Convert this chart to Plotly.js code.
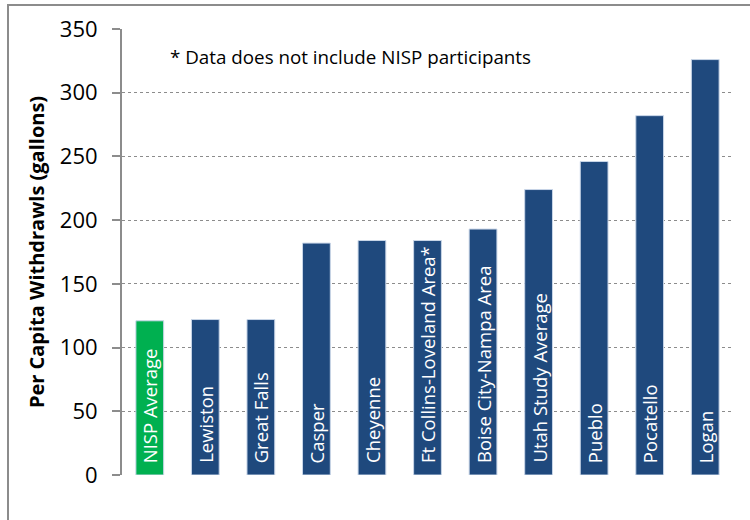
<!DOCTYPE html>
<html>
<head>
<meta charset="utf-8">
<script src="https://cdn.plot.ly/plotly-3.0.1.min.js"></script>
<style>html,body{margin:0;padding:0;background:#fff;}#chart{width:750px;height:520px;}</style>
</head>
<body>
<div id="chart"></div>
<script>
const categories = ["NISP Average","Lewiston","Great Falls","Casper","Cheyenne","Ft Collins-Loveland Area*","Boise City-Nampa Area","Utah Study Average","Pueblo","Pocatello","Logan"];
const values = [121, 122, 122, 182, 184, 184, 193, 224, 246, 282, 326];
const barColors = ["#00B050","#1F497D","#1F497D","#1F497D","#1F497D","#1F497D","#1F497D","#1F497D","#1F497D","#1F497D","#1F497D"];
const yTicks = [0, 50, 100, 150, 200, 250, 300, 350];
const yTitle = "Per Capita Withdrawls (gallons)";
const note = "* Data does not include NISP participants";

const trace = {
  type: "bar",
  x: categories,
  y: values,
  marker: {color: barColors, line: {color: "#c9d6e8", width: 1}},
  width: 0.5,
  hoverinfo: "none"
};

const barLabels = categories.map(c => ({
  text: c, xref: "x", yref: "y", x: c, y: 0,
  xanchor: "center", yanchor: "bottom", yshift: 10,
  textangle: -90, showarrow: false,
  font: {family: "Open Sans", size: 18.5, color: "#ffffff"}
}));

const layout = {
  width: 750, height: 520,
  margin: {l: 122, r: 17, t: 29, b: 45},
  paper_bgcolor: "#ffffff", plot_bgcolor: "#ffffff",
  showlegend: false,
  xaxis: {
    type: "category",
    showticklabels: false,
    showgrid: false, zeroline: false, showline: false, ticks: "",
    range: [-0.5, categories.length - 0.5]
  },
  yaxis: {
    range: [0, 350],
    tickvals: yTicks,
    ticktext: yTicks.map(String),
    showgrid: true, gridcolor: "#8c8c8c", griddash: "dot", gridwidth: 1,
    zeroline: false,
    showline: true, linecolor: "#8c8c8c", linewidth: 2,
    ticks: "outside", ticklen: 8, tickcolor: "#8c8c8c", tickwidth: 2,
    ticklabelstandoff: 10,
    tickfont: {family: "Open Sans", size: 22, color: "#000000"},
    title: {text: yTitle, font: {family: "Open Sans", size: 20, color: "#000000", weight: "bold"}, standoff: 10}
  },
  annotations: [{
    text: note, xref: "paper", yref: "paper",
    x: (168 - 122) / 611, y: (475 - 57) / 446,
    xanchor: "left", yanchor: "middle", showarrow: false,
    font: {family: "Open Sans", size: 18.8, color: "#000000"}
  }].concat(barLabels),
  shapes: [{
    type: "rect", xref: "paper", yref: "paper",
    x0: (8 - 122) / 611, x1: (760 - 122) / 611,
    y0: (475 - 540) / 446, y1: (475 - 5) / 446,
    line: {color: "#8c8c8c", width: 2}, fillcolor: "rgba(0,0,0,0)", layer: "below"
  }]
};

Plotly.newPlot("chart", [trace], layout, {staticPlot: true, displayModeBar: false});
</script>
</body>
</html>
